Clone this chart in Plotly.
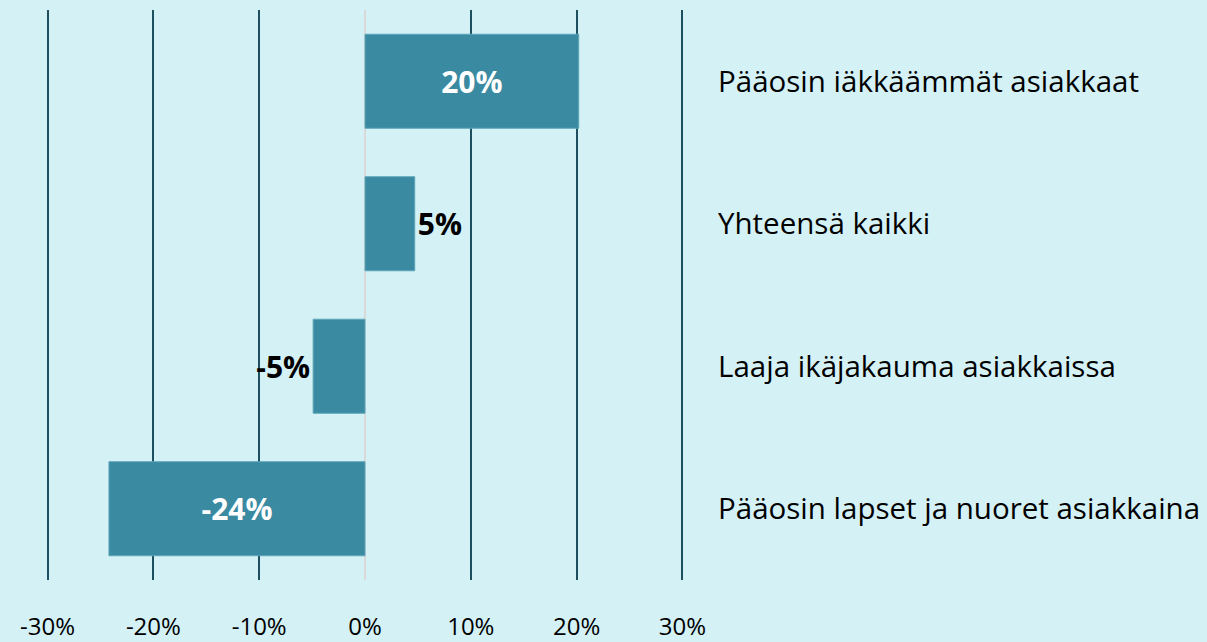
import plotly.graph_objects as go

categories = ["Pääosin iäkkäämmät asiakkaat", "Yhteensä kaikki",
              "Laaja ikäjakauma asiakkaissa", "Pääosin lapset ja nuoret asiakkaina"]
values = [20.2, 4.7, -4.9, -24.2]
value_labels = ["20%", "5%", "-5%", "-24%"]
label_positions = ["inside", "outside", "outside", "inside"]
label_colors = ["white", "black", "black", "white"]
tick_values = [-30, -20, -10, 0, 10, 20, 30]
tick_labels = ["-30%", "-20%", "-10%", "0%", "10%", "20%", "30%"]

BG = "#d4f1f5"
BAR = "#3a8aa1"
GRID = "#1d4f5e"

lbl_font = dict(family="Open Sans", size=30, color=label_colors, weight="bold")

fig = go.Figure(go.Bar(
    y=categories, x=values, orientation="h",
    text=value_labels, textposition=label_positions,
    insidetextanchor="middle",
    textfont=lbl_font, outsidetextfont=lbl_font, insidetextfont=lbl_font,
    marker=dict(color=BAR, line=dict(color="#5ea7ba", width=1)),
    width=0.66, cliponaxis=False,
))

fig.update_layout(
    width=1207, height=642,
    paper_bgcolor=BG, plot_bgcolor=BG,
    margin=dict(l=37.4, r=514.4, t=9.5, b=61.5, autoexpand=False),
    showlegend=False,
    font=dict(family="Open Sans", size=26, color="black"),
    uniformtext=dict(mode=False),
)
fig.update_xaxes(
    range=[-31, 31], tickvals=tick_values, ticktext=tick_labels,
    showgrid=True, gridcolor=GRID, gridwidth=2,
    zeroline=True, zerolinecolor="#d9d9d9", zerolinewidth=2,
    showline=False, ticks="", ticklabelstandoff=30,
    tickfont=dict(family="Open Sans", size=24, color="black"),
    automargin=False, fixedrange=True,
)
fig.update_yaxes(
    range=[3.5, -0.5], side="right", showgrid=False, zeroline=False,
    showline=False, ticks="", ticklabelstandoff=24,
    tickfont=dict(family="Open Sans", size=29.5, color="black"),
    automargin=False, fixedrange=True,
)

fig.write_html("out.html", config={"displayModeBar": False})

with open("out.html", encoding="utf-8") as f:
    html = f.read()
html = html.replace("<head>", "<head><style>html,body{margin:0;padding:0;overflow:hidden;background:%s}</style>" % BG, 1)
with open("out.html", "w", encoding="utf-8") as f:
    f.write(html)
